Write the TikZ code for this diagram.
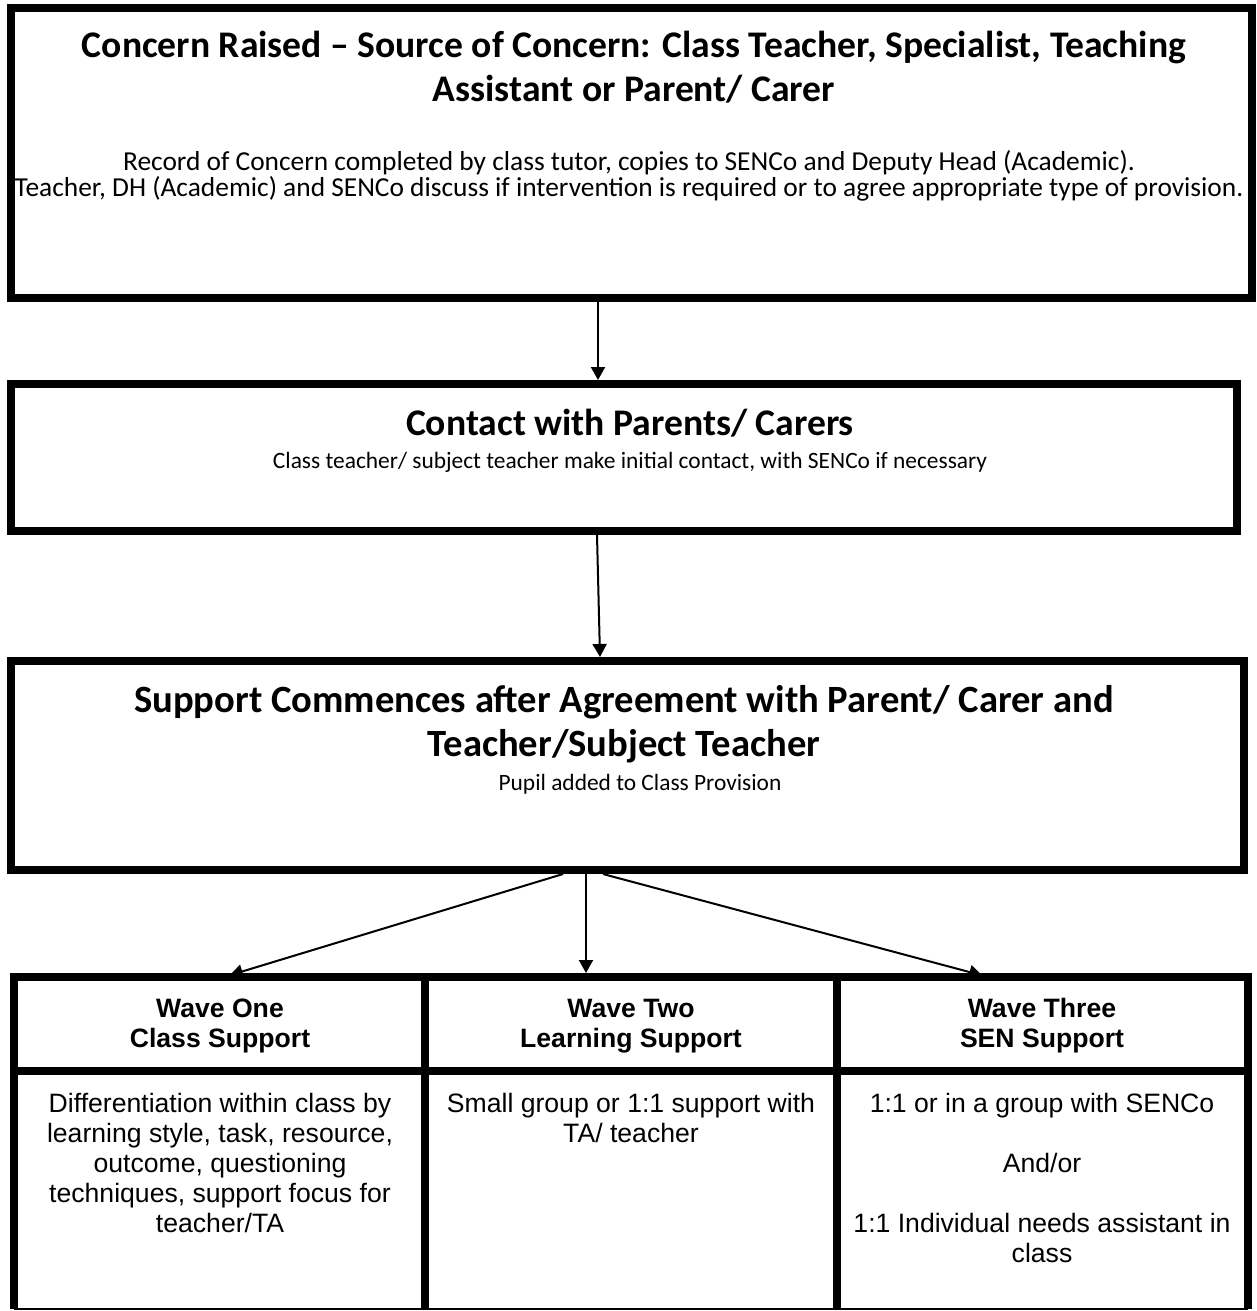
\documentclass[tikz,border=0pt]{standalone}
\usepackage{fontspec}
\setmainfont{Carlito}
\newfontfamily\tablefont{Liberation Sans}
\usetikzlibrary{positioning, fit, arrows.meta}

\tikzset{
  frame/.style={draw, line width=4pt, inner sep=0pt},
  heading/.style={align=center, inner sep=0pt, font=\fontsize{18.8}{22}\selectfont\bfseries},
  detail/.style={align=center, inner sep=0pt, font=\fontsize{11.7}{13}\selectfont},
  bigdetail/.style={detail, font=\fontsize{13.7}{13}\selectfont},
  wavehead/.style={align=center, inner sep=0pt, font=\tablefont\fontsize{13.3}{15}\selectfont\bfseries},
  wavetext/.style={align=center, inner sep=0pt, font=\tablefont\fontsize{13.3}{15}\selectfont},
  flow/.style={line width=1pt, -{Triangle[length=6.5pt,width=7pt]}},
}

\begin{document}
\begin{tikzpicture}[x=0.5pt, y=-0.5pt]
  \useasboundingbox (0,0) rectangle (1257,1311);

  % the three boxes
  \node[frame, fit={(10.5,8) (1252,297.5)}] (concern) {};
  \node[frame, fit={(11,384) (1237,531)}] (contact) {};
  \node[frame, fit={(11,661) (1244,870)}] (support) {};
  \node[inner sep=0pt, outer sep=0pt, fit={(14,977) (1248,1309)}] (waves) {};

  % base = last line
  \node[heading, anchor=base] (concernhead) at (634,102)
    {Concern Raised – Source of Concern: Class Teacher, Specialist, Teaching\\Assistant or Parent/ Carer};
  \node[bigdetail, anchor=base] (concerntext) at (629,196)
    {Record of Concern completed by class tutor, copies to SENCo and Deputy Head (Academic).\\Teacher, DH (Academic) and SENCo discuss if intervention is required or to agree appropriate type of provision.};

  \node[heading, anchor=base] (contacthead) at (630,435) {Contact with Parents/ Carers};
  \node[detail, anchor=base] (contacttext) at (630,468)
    {Class teacher/ subject teacher make initial contact, with SENCo if necessary};

  \node[heading, anchor=base, font=\fontsize{19.3}{22}\selectfont\bfseries] (supporthead) at (624,756)
    {Support Commences after Agreement with Parent/ Carer and\\Teacher/Subject Teacher};
  \node[detail, anchor=base] (supporttext) at (640,790) {Pupil added to Class Provision};

  % table of waves
  \draw[line width=4pt] (waves.south west) -- (waves.north west) -- (waves.north east) -- (waves.south east);
  \draw[line width=1pt] (waves.south west) -- (waves.south east);
  \coordinate (headline) at (0,1071);
  \draw[line width=4pt] (waves.west |- headline) -- (waves.east |- headline);
  \foreach \x in {425,837}
    \draw[line width=4pt] (\x,977) -- (\x,1309);

  \node[wavehead, anchor=base] (onehead) at (220,1047) {Wave One\\Class Support};
  \node[wavehead, anchor=base] (twohead) at (631,1047) {Wave Two\\Learning Support};
  \node[wavehead, anchor=base] (threehead) at (1042,1047) {Wave Three\\SEN Support};

  \node[wavetext, anchor=base] (onetext) at (220,1232)
    {Differentiation within class by\\learning style, task, resource,\\outcome, questioning\\techniques, support focus for\\teacher/TA};
  \node[wavetext, anchor=base] (twotext) at (631,1142) {Small group or 1:1 support with\\TA/ teacher};
  \node[wavetext, anchor=base] (threetext) at (1042,1262)
    {1:1 or in a group with SENCo\\[15pt]And/or\\[15pt]1:1 Individual needs assistant in\\class};

  % arrows
  \coordinate (a1) at (598,0);
  \coordinate (a2) at (597,0);
  \coordinate (a3) at (600,0);
  \coordinate (l1) at (563,0);
  \coordinate (l2) at (224,0);
  \coordinate (m1) at (586,0);
  \coordinate (r1) at (603,0);
  \coordinate (r2) at (988,0);
  \draw[flow] (concern.south -| a1) -- (contact.north -| a1);
  \draw[flow] (contact.south -| a2) -- (support.north -| a3);
  \draw[flow, shorten >=3pt] (support.south -| l1) -- (waves.north -| l2);
  \draw[flow, shorten >=2pt] (support.south -| m1) -- (waves.north -| m1);
  \draw[flow, shorten >=3pt] (support.south -| r1) -- (waves.north -| r2);
\end{tikzpicture}
\end{document}
